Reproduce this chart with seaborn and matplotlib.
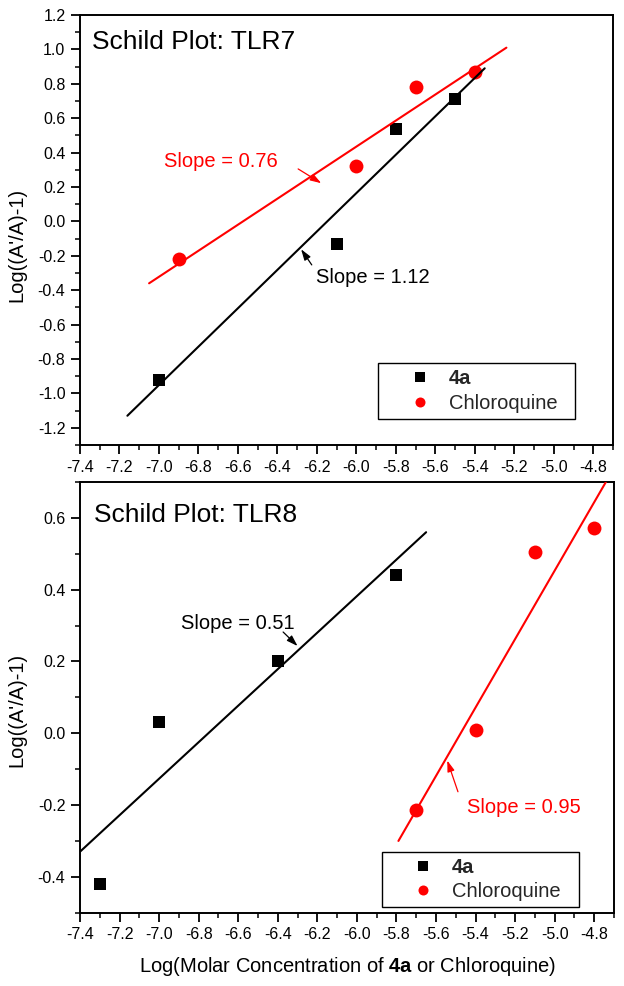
import matplotlib
matplotlib.use("Agg")
import matplotlib.pyplot as plt
from matplotlib.ticker import MultipleLocator, FuncFormatter
from matplotlib.lines import Line2D
import seaborn as sns
import pandas as pd

# ---------------- data ----------------
tlr7_4a_x = [-7.0, -6.1, -5.8, -5.5]
tlr7_4a_y = [-0.92, -0.13, 0.54, 0.71]
tlr7_cq_x = [-6.9, -6.0, -5.7, -5.4]
tlr7_cq_y = [-0.22, 0.32, 0.78, 0.87]
tlr7_fit_4a_x = [-7.16, -5.35]
tlr7_fit_4a_y = [-1.13, 0.89]
tlr7_fit_cq_x = [-7.05, -5.24]
tlr7_fit_cq_y = [-0.36, 1.01]

tlr8_4a_x = [-7.3, -7.0, -6.4, -5.8]
tlr8_4a_y = [-0.42, 0.03, 0.20, 0.44]
tlr8_cq_x = [-5.7, -5.4, -5.1, -4.8]
tlr8_cq_y = [-0.215, 0.01, 0.505, 0.572]
tlr8_fit_4a_x = [-7.4, -5.65]
tlr8_fit_4a_y = [-0.33, 0.56]
tlr8_fit_cq_x = [-5.79, -4.72]
tlr8_fit_cq_y = [-0.30, 0.72]

series_names = ["4a", "Chloroquine"]
titles = ["Schild Plot: TLR7", "Schild Plot: TLR8"]
slope_labels_7 = ["Slope = 1.12", "Slope = 0.76"]
slope_labels_8 = ["Slope = 0.51", "Slope = 0.95"]
ylabel = "Log((A'/A)-1)"
xlabel = r"Log(Molar Concentration of $\bf{4a}$ or Chloroquine)"

# ---------------- style ----------------
sns.set_theme(style="ticks")
plt.rcParams["font.family"] = ["Liberation Sans", "DejaVu Sans"]
plt.rcParams["axes.unicode_minus"] = False
plt.rcParams["mathtext.fontset"] = "custom"
plt.rcParams["mathtext.rm"] = "Liberation Sans"
plt.rcParams["mathtext.bf"] = "Liberation Sans:bold"

RED = "#ff0000"
BLACK = "#000000"

fig = plt.figure(figsize=(6.24, 9.86), dpi=100)
ax1 = fig.add_axes([0.1282, 0.5487, 0.8542, 0.4361])
ax2 = fig.add_axes([0.1282, 0.0743, 0.8558, 0.4369])

fmt = FuncFormatter(lambda v, p: ("%.1f" % v).replace("-0.0", "0.0"))


def style_axes(ax, ylim, ymaj):
    ax.set_xlim(-7.4, -4.7)
    ax.set_ylim(*ylim)
    ax.xaxis.set_major_locator(MultipleLocator(0.2))
    ax.xaxis.set_minor_locator(MultipleLocator(0.1))
    ax.yaxis.set_major_locator(MultipleLocator(ymaj))
    ax.yaxis.set_minor_locator(MultipleLocator(ymaj / 2))
    ax.xaxis.set_major_formatter(fmt)
    ax.yaxis.set_major_formatter(fmt)
    for s in ax.spines.values():
        s.set_visible(True)
        s.set_color("black")
        s.set_linewidth(1.4)
    ax.tick_params(which="major", direction="out", length=6.5, width=1.3,
                   labelsize=11.5, pad=4, color="black", labelcolor="black",
                   top=False, right=False)
    ax.tick_params(which="minor", direction="out", length=3.5, width=1.1,
                   color="black", top=False, right=False)
    ax.set_ylabel(ylabel, fontsize=14.5, color="black")
    ax.yaxis.label.set_va("center")
    ax.set_facecolor("white")


def draw_panel(ax, xa, ya, xc, yc, fxa, fya, fxc, fyc):
    sns.scatterplot(x=xa, y=ya, marker="s", s=81, color=BLACK, linewidth=0,
                    ax=ax, zorder=2, legend=False)
    sns.scatterplot(x=xc, y=yc, marker="o", s=100, color=RED, linewidth=0,
                    ax=ax, zorder=2, legend=False)
    sns.lineplot(x=fxa, y=fya, color=BLACK, linewidth=1.5, ax=ax, zorder=3)
    sns.lineplot(x=fxc, y=fyc, color=RED, linewidth=1.5, ax=ax, zorder=3)


def add_legend(ax, anchor):
    handles = [
        Line2D([], [], linestyle="none", marker="s", markersize=6.5,
               color=BLACK, markeredgewidth=0),
        Line2D([], [], linestyle="none", marker="o", markersize=7.2,
               color=RED, markeredgewidth=0),
    ]
    leg = ax.legend(handles, series_names, loc="lower left",
                    bbox_to_anchor=anchor, mode="expand", borderaxespad=0,
                    fontsize=14.5, frameon=True, fancybox=False, shadow=False,
                    framealpha=1, edgecolor="black", borderpad=0.31,
                    handlelength=3.46, handletextpad=-0.29, labelspacing=0.26)
    leg.get_frame().set_linewidth(1.0)
    leg.get_texts()[0].set_fontweight("bold")
    return leg


def arrow(ax, head, tail, color):
    ax.annotate("", xy=head, xytext=tail,
                arrowprops=dict(arrowstyle="-|>,head_length=0.55,head_width=0.18",
                                color=color, lw=0.9, shrinkA=0, shrinkB=0,
                                mutation_scale=12))


# ---------------- top panel ----------------
draw_panel(ax1, tlr7_4a_x, tlr7_4a_y, tlr7_cq_x, tlr7_cq_y,
           tlr7_fit_4a_x, tlr7_fit_4a_y, tlr7_fit_cq_x, tlr7_fit_cq_y)
style_axes(ax1, (-1.3, 1.2), 0.2)
ax1.set_xlabel("")
ax1.yaxis.set_label_coords(-0.119, 0.465)
ax1.text(0.022, 0.938, titles[0], transform=ax1.transAxes, fontsize=19,
         ha="left", va="center", color="black")
ax1.text(-6.205, -0.327, slope_labels_7[0], fontsize=14.5, color=BLACK,
         ha="left", va="center")
arrow(ax1, (-6.28, -0.162), (-6.226, -0.253), BLACK)
ax1.text(-6.975, 0.351, slope_labels_7[1], fontsize=14.5, color=RED,
         ha="left", va="center")
arrow(ax1, (-6.178, 0.222), (-6.295, 0.305), RED)
add_legend(ax1, (0.56, 0.0605, 0.369, 0.129))

# ---------------- bottom panel ----------------
draw_panel(ax2, tlr8_4a_x, tlr8_4a_y, tlr8_cq_x, tlr8_cq_y,
           tlr8_fit_4a_x, tlr8_fit_4a_y, tlr8_fit_cq_x, tlr8_fit_cq_y)
style_axes(ax2, (-0.5, 0.7), 0.2)
ax2.yaxis.set_label_coords(-0.119, 0.47)
ax2.set_xlabel(xlabel, fontsize=14.5, color="black")
ax2.xaxis.set_label_coords(0.5, -0.125)
ax2.xaxis.label.set_va("center")
ax2.text(0.026, 0.923, titles[1], transform=ax2.transAxes, fontsize=19,
         ha="left", va="center", color="black")
ax2.text(-6.89, 0.305, slope_labels_8[0], fontsize=14.5, color=BLACK,
         ha="left", va="center")
arrow(ax2, (-6.30, 0.243), (-6.373, 0.282), BLACK)
ax2.text(-5.445, -0.2075, slope_labels_8[1], fontsize=14.5, color=RED,
         ha="left", va="center")
arrow(ax2, (-5.543, -0.076), (-5.489, -0.163), RED)
add_legend(ax2, (0.565, 0.0125, 0.369, 0.128))

fig.savefig("out.png", dpi=100, facecolor="white")
